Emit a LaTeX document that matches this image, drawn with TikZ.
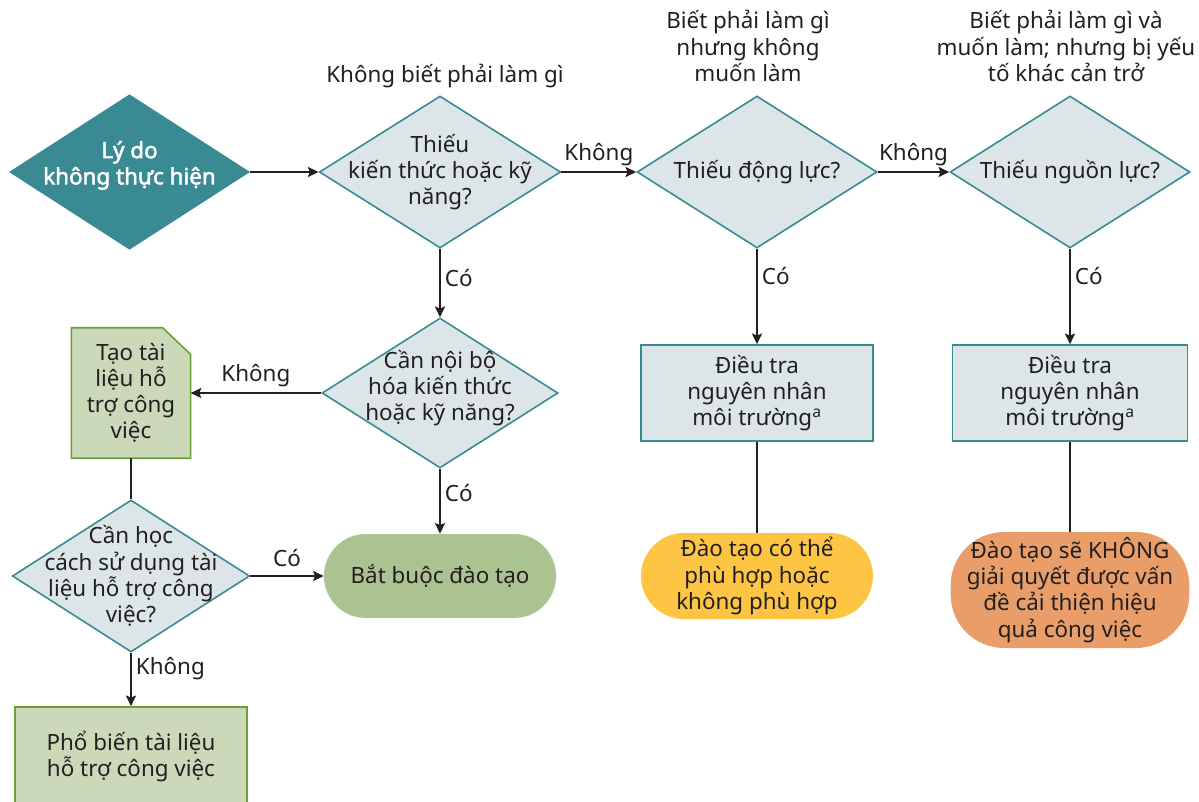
\documentclass[tikz,border=0pt]{standalone}
\usepackage{fontspec}
\setmainfont{Noto Sans}
\newfontfamily\bsans{Noto Sans}[FakeBold=2.2]
\usetikzlibrary{shapes.geometric,arrows.meta,backgrounds}
\definecolor{cTeal}{HTML}{3A8A94}
\definecolor{cLight}{HTML}{DCE6E8}
\definecolor{cGreenFill}{HTML}{CBD9B9}
\definecolor{cGreenLine}{HTML}{6A9F3A}
\definecolor{cPill}{HTML}{AAC390}
\definecolor{cYellow}{HTML}{FDC543}
\definecolor{cOrange}{HTML}{E99E69}
\definecolor{cText}{HTML}{231F20}
\newcommand\myfs{\fontsize{16.8}{19.6}\selectfont}
\tikzset{
  dia/.style={diamond, draw=cTeal, line width=1.2pt, fill=cLight, inner sep=0pt},
  lbl/.style={align=center, font=\myfs, text=cText, inner sep=0pt},
  txt/.style={align=center, font=\myfs, text=cText},
  bluebox/.style={rectangle, draw=cTeal, line width=1.2pt, fill=cLight, align=center, font=\myfs, text=cText, inner sep=0pt},
  greenbox/.style={rectangle, draw=cGreenLine, line width=1.2pt, fill=cGreenFill, align=center, font=\myfs, text=cText, inner sep=0pt},
  pill/.style={rectangle, draw=none, align=center, font=\myfs, text=cText, inner sep=0pt},
  arr/.style={-{Stealth[length=8pt,width=7.5pt,inset=1.5pt]}, line width=1.4pt, draw=cText},
  plain/.style={line width=1.4pt, draw=cText},
  elab/.style={font=\myfs, text=cText, inner sep=3pt}
}
\begin{document}
\begin{tikzpicture}[x=0.75pt,y=-0.75pt]
\useasboundingbox (0,0) rectangle (1199,801);

% top labels
\node[txt] (t1) at (445,76) {Không biết phải làm gì};
\node[txt] (t2) at (748,46) {Biết phải làm gì\\nhưng không\\muốn làm};
\node[txt] (t3) at (1066,46) {Biết phải làm gì và\\muốn làm; nhưng bị yếu\\tố khác cản trở};

% diamonds
\node[dia, fill=cTeal, draw=cTeal, minimum width=179pt, minimum height=115.5pt,
  label={[lbl, text=white, font=\myfs\bsans, yshift=5pt]center:{Lý do\\không thực hiện}}] (d1) at (129.5,172) {};
\node[dia, minimum width=181pt, minimum height=114pt,
  label={[lbl]center:{Thiếu\\kiến thức hoặc kỹ\\năng?}}] (d2) at (440,172) {};
\node[dia, minimum width=180pt, minimum height=114pt,
  label={[lbl]center:{Thiếu động lực?}}] (d3) at (757,172) {};
\node[dia, minimum width=180pt, minimum height=114pt,
  label={[lbl]center:{Thiếu nguồn lực?}}] (d4) at (1070,172) {};
\node[dia, minimum width=177pt, minimum height=112.5pt,
  label={[lbl, yshift=3.5pt]center:{Cần nội bộ\\hóa kiến thức\\hoặc kỹ năng?}}] (d5) at (440,393) {};
\node[dia, minimum width=178pt, minimum height=114pt,
  label={[lbl]center:{Cần học\\cách sử dụng tài\\liệu hỗ trợ công\\việc?}}] (d6) at (131,576) {};

% document shape
\node[lbl, minimum width=89pt, minimum height=97.5pt] (doc) at (131,393) {Tạo tài\\liệu hỗ\\trợ công\\việc};
\begin{scope}[on background layer]
\filldraw[draw=cGreenLine, fill=cGreenFill, line width=1.2pt]
  (doc.north west) -- ([xshift=-21pt]doc.north east) -- ([yshift=-20pt]doc.north east)
  -- (doc.south east) -- (doc.south west) -- cycle;
\end{scope}

% boxes
\node[greenbox, minimum width=174pt, minimum height=73.5pt] (b3) at (131,756) {Phổ biến tài liệu\\hỗ trợ công việc};
\node[bluebox, minimum width=174pt, minimum height=72pt] (b1) at (757,393) {Điều tra\\nguyên nhân\\môi trường\textsuperscript{a}};
\node[bluebox, minimum width=176pt, minimum height=72pt] (b2) at (1070,393) {Điều tra\\nguyên nhân\\môi trường\textsuperscript{a}};

% pills
\node[pill, fill=cPill, rounded corners=31.4pt, minimum width=174pt, minimum height=63pt] (p1) at (440,576) {Bắt buộc đào tạo};
\node[pill, fill=cYellow, rounded corners=32.2pt, minimum width=174pt, minimum height=64.5pt] (p2) at (757,576) {Đào tạo có thể\\phù hợp hoặc\\không phù hợp};
\node[pill, fill=cOrange, rounded corners=40pt, minimum width=179pt, minimum height=87pt] (p3) at (1070,590) {Đào tạo sẽ KHÔNG\\giải quyết được vấn\\đề cải thiện hiệu\\quả công việc};

% connectors
\draw[arr] (d1.east) -- (d2.west);
\draw[arr] (d2.east) -- node[elab, above=1pt] {Không} (d3.west);
\draw[arr] (d3.east) -- node[elab, above=1pt] {Không} (d4.west);
\draw[arr] (d2.south) -- node[elab, pos=.42, right] {Có} (d5.north);
\draw[arr] (d3.south) -- node[elab, pos=.29, right] {Có} (b1.north);
\draw[arr] (d4.south) -- node[elab, pos=.29, right] {Có} (b2.north);
\draw[arr] (d5.west) -- node[elab, above=1pt] {Không} (doc.east);
\draw[plain] (doc.south) -- (d6.north);
\draw[arr] (d6.east) -- node[elab, above=3pt] {Có} (p1.west);
\draw[arr] (d5.south) -- node[elab, pos=.38, right] {Có} (p1.north);
\draw[arr] (d6.south) -- node[elab, pos=.3, right] {Không} (b3.north);
\draw[plain] (b1.south) -- (p2.north);
\draw[plain] (b2.south) -- (p3.north);
\end{tikzpicture}
\end{document}
